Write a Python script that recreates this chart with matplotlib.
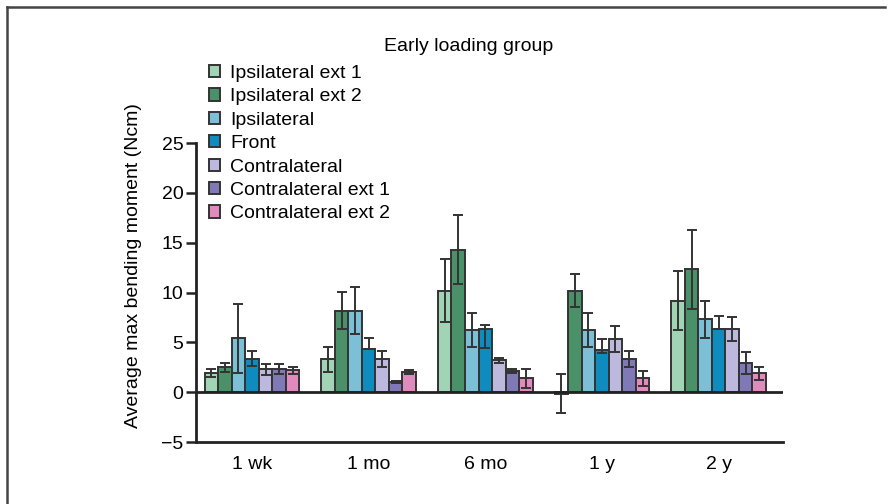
import numpy as np
import matplotlib
matplotlib.use("Agg")
import matplotlib.pyplot as plt
from matplotlib.lines import Line2D

plt.rcParams["font.family"] = ["Liberation Sans", "DejaVu Sans"]

# time points and loading sites
groups = ["1 wk", "1 mo", "6 mo", "1 y", "2 y"]
series = ["Ipsilateral ext 1", "Ipsilateral ext 2", "Ipsilateral", "Front",
          "Contralateral", "Contralateral ext 1", "Contralateral ext 2"]

ipsi_ext1 = [1.9, 3.3, 10.2, -0.15, 9.2]
ipsi_ext2 = [2.5, 8.2, 14.3, 10.2, 12.35]
ipsi = [5.4, 8.2, 6.2, 6.2, 7.3]
front = [3.35, 4.3, 6.35, 4.2, 6.3]
contra = [2.3, 3.3, 3.2, 5.3, 6.3]
contra_ext1 = [2.3, 1.05, 2.1, 3.35, 2.95]
contra_ext2 = [2.2, 2.05, 1.4, 1.4, 1.9]

# error bars (lower, upper for Front)
ipsi_ext1_err = [0.4, 1.25, 3.2, 1.95, 2.95]
ipsi_ext2_err = [0.45, 1.9, 3.45, 1.65, 3.95]
ipsi_err = [3.5, 2.4, 1.7, 1.7, 1.9]
front_err_lo = [0.7, 0.0, 1.9, 0.3, 0.0]
front_err_hi = [0.75, 1.1, 0.4, 1.1, 1.35]
contra_err = [0.55, 0.8, 0.25, 1.3, 1.2]
contra_ext1_err = [0.5, 0.1, 0.2, 0.8, 1.1]
contra_ext2_err = [0.35, 0.2, 0.95, 0.75, 0.65]

values = [ipsi_ext1, ipsi_ext2, ipsi, front, contra, contra_ext1, contra_ext2]
errors = [ipsi_ext1_err, ipsi_ext2_err, ipsi_err, [front_err_lo, front_err_hi],
          contra_err, contra_ext1_err, contra_ext2_err]

colors = ["#a0d4b4", "#4a9068", "#7cc0d8", "#0e8cc0",
          "#bcb8de", "#7f79b8", "#e08abd"]

FS = 14

fig = plt.figure(figsize=(8.93, 5.04), dpi=100)
ax = fig.add_axes([0.2195, 0.123, 0.657, 0.593])

x = np.arange(len(groups))
width = 0.116
for i, (name, vals, err, col) in enumerate(zip(series, values, errors, colors)):
    pos = x + (i - 3) * width
    ax.bar(pos, vals, width, color=col, edgecolor="#333333", linewidth=1.4,
           label=name, zorder=2)
    ax.errorbar(pos, vals, yerr=err, fmt="none", ecolor="#333333",
                elinewidth=1.4, capsize=3.3, capthick=1.4, zorder=3)

ax.axhline(0, color="#222222", linewidth=2, zorder=4)

ax.set_xlim(-0.48, 4.55)
ax.set_ylim(-5, 25)
ax.set_yticks([-5, 0, 5, 10, 15, 20, 25])
ax.set_yticklabels(["\u22125", "0", "5", "10", "15", "20", "25"])
ax.set_xticks(x)
ax.set_xticklabels(groups)
ax.tick_params(axis="x", length=0, pad=10, labelsize=FS)
ax.tick_params(axis="y", length=7, width=1.8, direction="out", labelsize=FS,
               pad=2, color="#222222")

for side in ["top", "right"]:
    ax.spines[side].set_visible(False)
for side in ["left", "bottom"]:
    ax.spines[side].set_linewidth(2)
    ax.spines[side].set_color("#222222")

ax.set_ylabel("Average max bending moment (Ncm)", fontsize=FS)
ax.yaxis.set_label_coords(-0.092, 0.59)

fig.text(0.525, 0.908, "Early loading group", ha="center", va="center",
         fontsize=FS)

fig.legend(loc="upper left", bbox_to_anchor=(0.225, 0.887), frameon=False,
           fontsize=FS, handlelength=0.6, handleheight=0.6,
           handletextpad=0.5, labelspacing=0.33, borderaxespad=0)

# outer frame
fig.add_artist(Line2D([7 / 893, 885 / 893], [1 - 7 / 504, 1 - 7 / 504],
                      transform=fig.transFigure, color="#444444", linewidth=1.8))
fig.add_artist(Line2D([7 / 893, 7 / 893], [0, 1 - 7 / 504],
                      transform=fig.transFigure, color="#444444", linewidth=1.8))

fig.savefig("out.png", dpi=100)
plt.close(fig)
